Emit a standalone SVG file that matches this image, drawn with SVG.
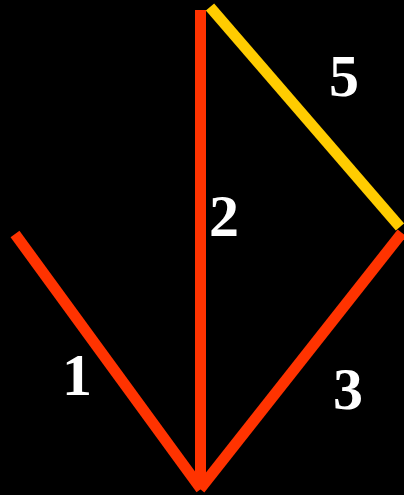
<svg xmlns="http://www.w3.org/2000/svg" width="404" height="495" viewBox="0 0 404 495">
<style>
.red{stroke:#FF3300;stroke-width:11;fill:none}
.yel{stroke:#FFCC00;stroke-width:11;fill:none}
.lbl{font-family:"Liberation Serif",serif;font-weight:bold;font-size:60px;fill:#FFFFFF;text-anchor:middle}
</style>
<rect width="404" height="495" fill="#000000"/>
<g id="connectors">
<line class="red" x1="15" y1="234" x2="201" y2="489"/>
<line class="red" x1="200" y1="489" x2="402" y2="233"/>
<line class="red" x1="200.5" y1="10" x2="200.5" y2="489"/>
<line class="yel" x1="210" y1="7" x2="400" y2="227"/>
</g>
<g id="label1"><text class="lbl" x="77" y="395">1</text></g>
<g id="label2"><text class="lbl" x="224" y="236">2</text></g>
<g id="label3"><text class="lbl" x="348" y="409">3</text></g>
<g id="label5"><text class="lbl" x="344" y="96">5</text></g>
</svg>
